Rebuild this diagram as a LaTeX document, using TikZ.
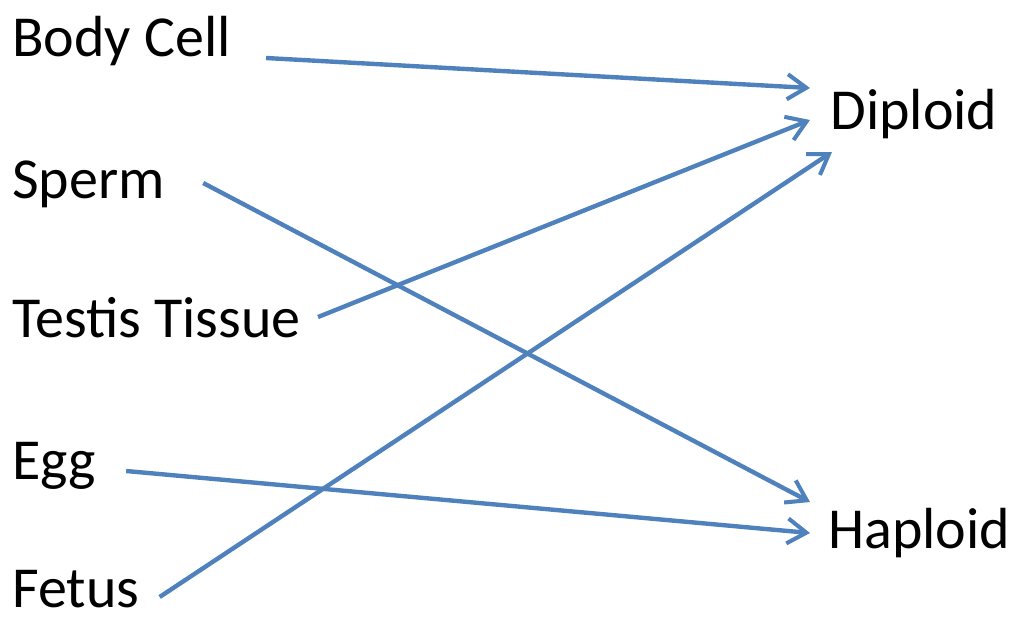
\documentclass[tikz,border=0pt]{standalone}
\usepackage{fontspec}
\setmainfont{Carlito}
\usepackage{tikz}
\usetikzlibrary{arrows.meta, positioning}

\definecolor{linkblue}{HTML}{4F81BD}

\begin{document}
\begin{tikzpicture}[font=\fontsize{33}{39}\selectfont,
    every node/.style={inner sep=0pt},
    link/.style={draw=linkblue, line width=2.5pt,
      -{Straight Barb[length=0.38cm, width=0.5cm, line width=2.3pt]}}]
    \useasboundingbox (0,0) rectangle (20.32,-12.4);

    % left column
    \node[anchor=base west] (body) at (0.24,-1.12) {Body Cell};
    \node[anchor=base west] (sperm) at (0.24,-3.96) {Sperm};
    \node[anchor=base west] (testis) at (0.24,-6.74) {Testis Tissue};
    \node[anchor=base west] (egg) at (0.24,-9.58) {Egg};
    \node[anchor=base west] (fetus) at (0.24,-12.14) {Fetus};

    % right column
    \node[anchor=base west] (diploid) at (16.6,-2.58) {Diploid};
    \node[anchor=base west] (haploid) at (16.56,-10.96) {Haploid};

    \draw[link] ([shift={(0.7,-0.04)}]body.base east) -- ([shift={(-0.4,0.82)}]diploid.base west);
    \draw[link] ([shift={(0.76,0.3)}]sperm.base east) -- ([shift={(-0.36,0.92)}]haploid.base west);
    \draw[link] ([shift={(0.34,0.4)}]testis.base east) -- ([shift={(-0.4,0.18)}]diploid.base west);
    \draw[link] ([shift={(0.6,0.16)}]egg.base east) -- ([shift={(-0.36,0.3)}]haploid.base west);
    \draw[link] ([shift={(0.4,0.2)}]fetus.base east) -- ([shift={(0.04,-0.46)}]diploid.base west);

\end{tikzpicture}
\end{document}
